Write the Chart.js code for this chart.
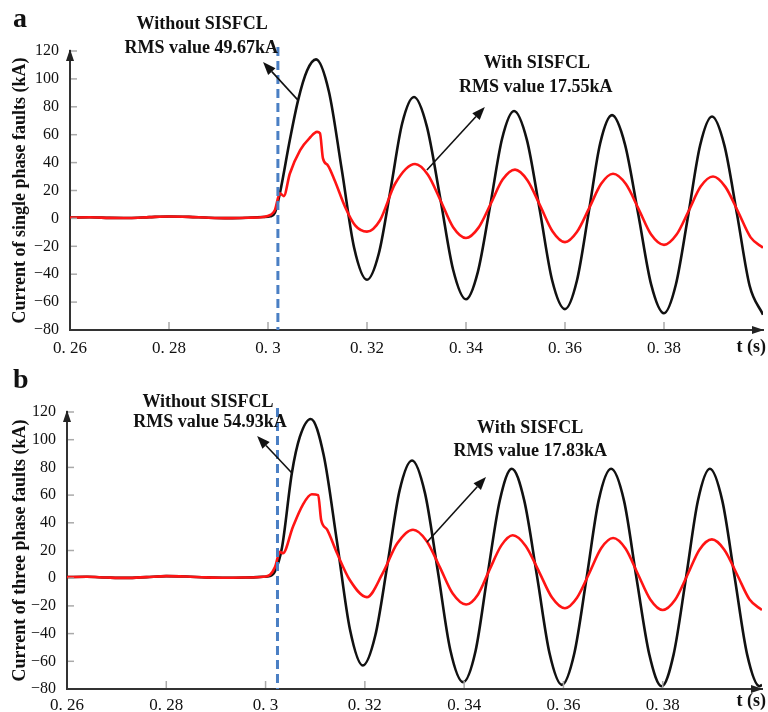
<!DOCTYPE html>
<html>
<head>
<meta charset="utf-8">
<script src="https://cdn.jsdelivr.net/npm/chart.js@4.4.0/dist/chart.umd.min.js"></script>
<style>
  body { margin: 0; background: #fff; }
  #wrap { position: relative; width: 768px; height: 712px; }
  canvas { position: absolute; left: 0; }
</style>
</head>
<body>
<div id="wrap">
  <canvas id="chartA" width="768" height="356" style="top:0"></canvas>
  <canvas id="chartB" width="768" height="356" style="top:356px"></canvas>
</div>
<script>
// axis ticks
var xTicks = [0.26, 0.28, 0.30, 0.32, 0.34, 0.36, 0.38];
var xTickLabels = ["0. 26", "0. 28", "0. 3", "0. 32", "0. 34", "0. 36", "0. 38"];
var yTicks = [-80, -60, -40, -20, 0, 20, 40, 60, 80, 100, 120];

// panel a - single phase fault
var tRedA = [0.26, 0.264, 0.268, 0.272, 0.276, 0.28, 0.284, 0.288, 0.292, 0.296, 0.299, 0.3005, 0.3014, 0.3024, 0.3032,
  0.3044, 0.3065, 0.3085, 0.3099, 0.3105, 0.3111, 0.3121, 0.3135, 0.3156, 0.3176, 0.32, 0.3226, 0.3257, 0.3297,
  0.3323, 0.3349, 0.3374, 0.34, 0.3425, 0.345, 0.3474, 0.3499, 0.3524, 0.355, 0.3575, 0.36, 0.3624, 0.3649, 0.3673,
  0.3697, 0.3723, 0.3749, 0.3774, 0.38, 0.3825, 0.385, 0.3874, 0.3899, 0.3924, 0.395, 0.3975, 0.40];
var redA = [0.6, 0.8, 0.4, 0.3, 0.9, 1.4, 1.1, 0.5, 0.2, 0.5, 1.0, 2.5, 6, 18, 16,
  32, 49, 58, 62, 61, 43, 38, 27, 8, -5, -9.5, -1.5, 25, 39,
  31.3, 12.5, -6.3, -14, -6.8, 10.5, 27.8, 35, 27.4, 9, -9.4, -17, -9.8, 7.5, 24.8,
  32, 24.6, 6.5, -11.6, -19, -11.8, 5.5, 22.8, 30, 22.6, 4.5, -13.6, -21];
var tBlackA = [0.26, 0.264, 0.268, 0.272, 0.276, 0.28, 0.284, 0.288, 0.292, 0.296, 0.299, 0.3005, 0.3014, 0.3024,
  0.3044, 0.3061, 0.3079, 0.3097, 0.3123, 0.3149, 0.3174, 0.32, 0.3224, 0.3248, 0.3271, 0.3295, 0.3321, 0.3348,
  0.3374, 0.34, 0.3424, 0.3449, 0.3473, 0.3497, 0.3523, 0.3549, 0.3574, 0.36, 0.3624, 0.3648, 0.3671, 0.3695,
  0.3721, 0.3748, 0.3774, 0.38, 0.3824, 0.3849, 0.3873, 0.3897, 0.3922, 0.3948, 0.3973, 0.40];
var blackA = [0.6, 0.8, 0.4, 0.3, 0.9, 1.4, 1.1, 0.5, 0.2, 0.5, 1.0, 1.5, 4, 18,
  56, 85, 106, 114, 91, 35, -21, -44, -25, 21.5, 68, 87, 65.8, 14.5,
  -36.8, -58, -38.3, 9.5, 57.3, 77, 56.3, 6, -44.3, -65, -44.7, 4.5, 53.7, 74,
  53.3, 3, -47.3, -68, -47.4, 2.5, 52.4, 73, 52.3, 2, -48.3, -69];

// panel b - three phase fault
var tRedB = [0.26, 0.264, 0.268, 0.272, 0.276, 0.28, 0.284, 0.288, 0.292, 0.296, 0.2995, 0.3009, 0.3019, 0.3029, 0.3035,
  0.3055, 0.3075, 0.3093, 0.3106, 0.3112, 0.3124, 0.3144, 0.317, 0.3204, 0.3236, 0.3265, 0.3297,
  0.3324, 0.3351, 0.3377, 0.3404, 0.3428, 0.3451, 0.3475, 0.3498, 0.3524, 0.3551, 0.3577, 0.3603, 0.3627, 0.3652,
  0.3676, 0.37, 0.3725, 0.375, 0.3775, 0.38, 0.3825, 0.385, 0.3874, 0.3899, 0.3924, 0.395, 0.3975, 0.40];
var redB = [0.8, 1.0, 0.5, 0.2, 0.8, 1.5, 1.2, 0.6, 0.3, 0.5, 1.0, 2.5, 8, 19, 18,
  37, 53, 60.6, 60, 42, 35, 18, -1.5, -13.7, 3.6, 25, 35,
  27.1, 8, -11.1, -19, -11.7, 6, 23.7, 31, 23.3, 4.6, -14, -21.7, -14.3, 3.6,
  21.6, 29, 21.4, 3, -15.4, -23, -15.6, 2.5, 20.6, 28, 20.6, 2.5, -15.4, -23];
var tBlackB = [0.26, 0.264, 0.268, 0.272, 0.276, 0.28, 0.284, 0.288, 0.292, 0.296, 0.2995, 0.3009, 0.3019, 0.3033,
  0.3053, 0.3069, 0.3091, 0.3117, 0.3144, 0.317, 0.3196, 0.3221, 0.3246, 0.327, 0.3295, 0.3321, 0.3347, 0.3372,
  0.3398, 0.3423, 0.3447, 0.3472, 0.3496, 0.3521, 0.3547, 0.3572, 0.3597, 0.3622, 0.3647, 0.3671, 0.3696,
  0.3722, 0.3747, 0.3773, 0.3798, 0.3822, 0.3847, 0.3871, 0.3895, 0.392, 0.3945, 0.397, 0.3995, 0.40];
var blackB = [0.8, 1.0, 0.5, 0.2, 0.8, 1.5, 1.2, 0.6, 0.3, 0.5, 1.0, 1.5, 5, 22,
  76, 102, 115, 89, 26, -37, -63, -41.4, 11, 63.4, 85, 61.6, 5, -51.6,
  -75, -52.5, 2, 56.5, 79, 56.2, 1, -54.2, -77, -54.2, 1, 56.2, 79,
  56, 0.5, -55.1, -78, -55, 0.5, 56.1, 79, 56, 0.5, -55, -78, -77];

var serif = '"Liberation Serif", "Times New Roman", serif';

function toPoints(ts, vs) {
  return ts.map(function(t, i) { return {x: t, y: vs[i]}; });
}

function arrow(ctx, x1, y1, x2, y2) {
  var ang = Math.atan2(y2 - y1, x2 - x1);
  var len = 13, half = 5;
  var bx = x2 - len * Math.cos(ang), by = y2 - len * Math.sin(ang);
  ctx.beginPath();
  ctx.moveTo(x1, y1);
  ctx.lineTo(bx, by);
  ctx.stroke();
  ctx.beginPath();
  ctx.moveTo(x2, y2);
  ctx.lineTo(bx + half * Math.sin(ang), by - half * Math.cos(ang));
  ctx.lineTo(bx - half * Math.sin(ang), by + half * Math.cos(ang));
  ctx.closePath();
  ctx.fill();
}

// extra drawing: inner ticks, axis arrows, fault line, notes
var decorPlugin = {
  id: 'decor',
  afterDatasetsDraw: function(chart) {
    var p = chart.options.plugins.decor;
    var ctx = chart.ctx, xs = chart.scales.x, ys = chart.scales.y, a = chart.chartArea;
    ctx.save();
    // fault instant
    ctx.strokeStyle = '#4a7fc4';
    ctx.lineWidth = 3;
    ctx.setLineDash([9, 5]);
    ctx.beginPath();
    var fx = xs.getPixelForValue(p.fault);
    ctx.moveTo(fx, a.top - 4);
    ctx.lineTo(fx, a.bottom);
    ctx.stroke();
    ctx.setLineDash([]);

    // small inner ticks
    ctx.strokeStyle = '#aaa';
    ctx.lineWidth = 1.5;
    yTicks.forEach(function(v) {
      if (v === -80) return;
      var y = ys.getPixelForValue(v);
      ctx.beginPath(); ctx.moveTo(a.left + 1, y); ctx.lineTo(a.left + 7, y); ctx.stroke();
    });
    xTicks.forEach(function(v, i) {
      if (i === 0) return;
      var x = xs.getPixelForValue(v);
      ctx.beginPath(); ctx.moveTo(x, a.bottom - 1); ctx.lineTo(x, a.bottom - 8); ctx.stroke();
    });

    // axis arrow heads
    ctx.fillStyle = '#222';
    ctx.beginPath();
    ctx.moveTo(a.left, a.top - 2);
    ctx.lineTo(a.left - 4, a.top + 10);
    ctx.lineTo(a.left + 4, a.top + 10);
    ctx.closePath(); ctx.fill();
    ctx.beginPath();
    ctx.moveTo(a.right + 1, a.bottom);
    ctx.lineTo(a.right - 11, a.bottom - 4);
    ctx.lineTo(a.right - 11, a.bottom + 4);
    ctx.closePath(); ctx.fill();

    // notes and arrows
    ctx.fillStyle = '#111';
    ctx.strokeStyle = '#111';
    ctx.lineWidth = 1.6;
    ctx.font = 'bold 18px ' + serif;
    ctx.textAlign = 'center';
    ctx.textBaseline = 'middle';
    p.notes.forEach(function(n) {
      ctx.fillText(n.line1, xs.getPixelForValue(n.t1), ys.getPixelForValue(n.v1));
      ctx.fillText(n.line2, xs.getPixelForValue(n.t2), ys.getPixelForValue(n.v2));
      arrow(ctx, xs.getPixelForValue(n.from[0]), ys.getPixelForValue(n.from[1]),
                 xs.getPixelForValue(n.to[0]), ys.getPixelForValue(n.to[1]));
    });

    // panel letter
    ctx.textAlign = 'left';
    ctx.textBaseline = 'alphabetic';
    ctx.font = 'bold 28px ' + serif;
    ctx.fillText(p.letter, 13, p.letterY);

    // time axis name
    ctx.font = 'bold 18px ' + serif;
    ctx.textAlign = 'right';
    ctx.textBaseline = 'middle';
    ctx.fillText('t (s)', 766, p.tY);
    ctx.restore();
  }
};

function buildChart(id, opt) {
  return new Chart(document.getElementById(id), {
    type: 'line',
    data: {
      datasets: [{
        data: toPoints(opt.tRed, opt.red),
        borderColor: '#ff1414',
        borderWidth: 2.6,
        pointRadius: 0,
        cubicInterpolationMode: 'monotone',
        order: 0
      }, {
        data: toPoints(opt.tBlack, opt.black),
        borderColor: '#111',
        borderWidth: 2.6,
        pointRadius: 0,
        cubicInterpolationMode: 'monotone',
        order: 1
      }]
    },
    options: {
      responsive: false,
      animation: false,
      devicePixelRatio: 1,
      layout: { padding: { top: opt.top, right: opt.right, left: 0, bottom: 0 } },
      plugins: {
        legend: { display: false },
        tooltip: { enabled: false },
        decor: opt.decor
      },
      scales: {
        x: {
          type: 'linear',
          min: 0.26,
          max: 0.40,
          afterBuildTicks: function(scale) {
            scale.ticks = xTicks.map(function(v) { return {value: v}; });
          },
          afterFit: function(scale) { scale.height = opt.xHeight; },
          grid: { display: true, drawOnChartArea: false, drawTicks: false },
          border: { display: true, color: '#333', width: 2 },
          ticks: {
            padding: opt.xPad,
            maxRotation: 0,
            autoSkip: false,
            color: '#111',
            font: { family: serif, size: 17 },
            callback: function(v, i) { return xTickLabels[i]; }
          }
        },
        y: {
          min: -80,
          max: 120,
          afterBuildTicks: function(scale) {
            scale.ticks = yTicks.map(function(v) { return {value: v}; });
          },
          afterFit: function(scale) { scale.width = opt.yWidth; },
          grid: { display: true, drawOnChartArea: false, drawTicks: false },
          border: { display: true, color: '#333', width: 2 },
          title: {
            display: true,
            text: opt.yTitle,
            color: '#111',
            font: { family: serif, size: 18, weight: 'bold' },
            padding: { top: 10, bottom: 0 }
          },
          ticks: {
            padding: 11,
            color: '#111',
            font: { family: serif, size: 16 },
            callback: function(v) { return v < 0 ? '\u2212' + (-v) : String(v); }
          }
        }
      }
    },
    plugins: [decorPlugin]
  });
}

buildChart('chartA', {
  tRed: tRedA, red: redA, tBlack: tBlackA, black: blackA,
  top: 51, right: 5, xHeight: 26, xPad: 8, yWidth: 70,
  yTitle: 'Current of single phase faults (kA)',
  decor: {
    fault: 0.3020, letter: 'a', letterY: 27, tY: 347,
    notes: [
      { line1: 'Without SISFCL', t1: 0.2867, v1: 139.4, line2: 'RMS value 49.67kA', t2: 0.2865, v2: 122.2,
        from: [0.3061, 84.6], to: [0.2990, 112.1] },
      { line1: 'With SISFCL', t1: 0.3543, v1: 111.4, line2: 'RMS value 17.55kA', t2: 0.3541, v2: 94.2,
        from: [0.3321, 34.7], to: [0.3438, 79.9] }
    ]
  }
});

buildChart('chartB', {
  tRed: tRedB, red: redB, tBlack: tBlackB, black: blackB,
  top: 56, right: 6, xHeight: 23, xPad: 6, yWidth: 67,
  yTitle: 'Current of three phase faults (kA)',
  decor: {
    fault: 0.3024, letter: 'b', letterY: 32, tY: 345,
    notes: [
      { line1: 'Without SISFCL', t1: 0.2884, v1: 127.2, line2: 'RMS value 54.93kA', t2: 0.2888, v2: 112.8,
        from: [0.3053, 76], to: [0.2983, 102.7] },
      { line1: 'With SISFCL', t1: 0.3533, v1: 108.4, line2: 'RMS value 17.83kA', t2: 0.3533, v2: 91.8,
        from: [0.3325, 26], to: [0.3444, 73] }
    ]
  }
});
</script>
</body>
</html>
